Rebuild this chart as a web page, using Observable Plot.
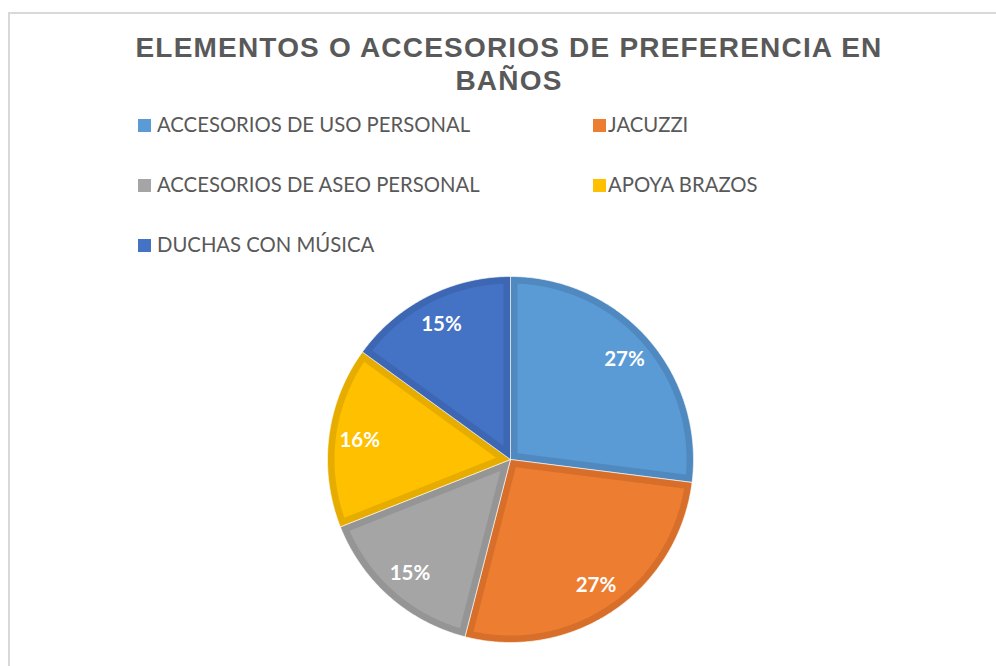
<!DOCTYPE html>
<html>
<head>
<meta charset="utf-8">
<script src="https://cdn.jsdelivr.net/npm/d3@7"></script>
<script src="https://cdn.jsdelivr.net/npm/@observablehq/plot@0.6"></script>
<style>
  html, body { margin: 0; padding: 0; background: #fff; }
  #wrap { position: relative; width: 996px; height: 666px; overflow: hidden; }
  #frame { position: absolute; left: 8px; top: 12px; width: 1200px; height: 900px;
           border-left: 2px solid #d9d9d9; border-top: 2px solid #d9d9d9; }
  #title { position: absolute; left: 0; top: 31px; width: 1018px; text-align: center;
           font-family: "Liberation Sans", Arial, sans-serif; font-weight: bold;
           font-size: 28px; line-height: 33px; letter-spacing: 1.2px; color: #595959; }
  .leg { position: absolute; font-family: Lato, "Open Sans", sans-serif; font-size: 20.3px;
         color: #595959; white-space: nowrap; line-height: 20px; }
  .sw { position: absolute; width: 13px; height: 13px; }
  #chart { position: absolute; left: 0; top: 266px; }
</style>
</head>
<body>
<div id="wrap">
  <div id="frame"></div>
  <div id="title">ELEMENTOS O ACCESORIOS DE PREFERENCIA EN<br>BAÑOS</div>
  <div id="legend"></div>
  <div id="chart"></div>
</div>
<script>
// ---- data ----
const categories = [
  "ACCESORIOS DE USO PERSONAL",
  "JACUZZI",
  "ACCESORIOS DE ASEO PERSONAL",
  "APOYA BRAZOS",
  "DUCHAS CON MÚSICA"
];
const values = [27, 27, 15, 16, 15];
const labels = ["27%", "27%", "15%", "16%", "15%"];

// ---- styles ----
const fillColors   = ["#5B9BD5", "#ED7D31", "#A5A5A5", "#FFC000", "#4472C4"];
const borderColors = ["#5089C0", "#D76F2A", "#959595", "#E6AD00", "#3D67B3"];

// ---- legend (HTML) ----
const legendPos = [
  {sx: 138, tx: 157, y: 125},
  {sx: 593, tx: 608, y: 125},
  {sx: 138, tx: 157, y: 185},
  {sx: 593, tx: 608, y: 185},
  {sx: 138, tx: 157, y: 245}
];
const legend = document.getElementById("legend");
categories.forEach((c, i) => {
  const p = legendPos[i];
  const s = document.createElement("div");
  s.className = "sw";
  s.style.left = p.sx + "px"; s.style.top = (p.y - 6.5) + "px";
  s.style.background = fillColors[i];
  legend.appendChild(s);
  const t = document.createElement("div");
  t.className = "leg";
  t.style.left = p.tx + "px"; t.style.top = (p.y - 11) + "px";
  t.textContent = c;
  legend.appendChild(t);
});

// ---- pie geometry ----
const W = 996, H = 400;
const cx = 510, cy = 193, R = 183, inset = 7, labelR = 152;
const data = categories.map((c, i) => ({category: c, value: values[i], label: labels[i], i}));
const arcs = d3.pie().sort(null).value(d => d.value)(data);

function pt(a, r) { return {x: cx + r * Math.sin(a), y: cy - r * Math.cos(a)}; }

const outerPts = [], innerPts = [], labelPts = [];
arcs.forEach(a => {
  const k = a.data.i;
  const a0 = a.startAngle, a1 = a.endAngle;
  const n = Math.max(8, Math.ceil((a1 - a0) / 0.01));
  outerPts.push({k, ...pt(0, 0)});
  for (let j = 0; j <= n; j++) outerPts.push({k, ...pt(a0 + (a1 - a0) * j / n, R)});
  outerPts.push({k, ...pt(0, 0)});
  // inset wedge
  const half = (a1 - a0) / 2;
  const apexD = inset / Math.sin(half);
  const ri = R - inset;
  const da = Math.asin(inset / ri);
  const apex = pt(a0 + half, apexD);
  innerPts.push({k, ...apex});
  const b0 = a0 + da, b1 = a1 - da;
  for (let j = 0; j <= n; j++) innerPts.push({k, ...pt(b0 + (b1 - b0) * j / n, ri)});
  innerPts.push({k, ...apex});
  labelPts.push({k, label: a.data.label, ...pt((a0 + a1) / 2, labelR)});
});

const marks = [];
categories.forEach((c, k) => {
  marks.push(Plot.line(outerPts.filter(d => d.k === k), {
    x: "x", y: "y", fill: borderColors[k], stroke: "#ffffff", strokeWidth: 1, strokeOpacity: 0.6
  }));
});
categories.forEach((c, k) => {
  marks.push(Plot.line(innerPts.filter(d => d.k === k), {
    x: "x", y: "y", fill: fillColors[k], stroke: "none"
  }));
});
marks.push(Plot.text(labelPts, {
  x: "x", y: "y", text: "label", fill: "white", fontWeight: "bold",
  fontSize: 20.5, fontFamily: "Lato, 'Open Sans', sans-serif"
}));

const chart = Plot.plot({
  width: W, height: H,
  margin: 0,
  x: {domain: [0, W], range: [0, W], axis: null},
  y: {domain: [0, H], range: [0, H], axis: null},
  style: {background: "transparent", overflow: "visible"},
  marks
});
document.getElementById("chart").appendChild(chart);
</script>
</body>
</html>
